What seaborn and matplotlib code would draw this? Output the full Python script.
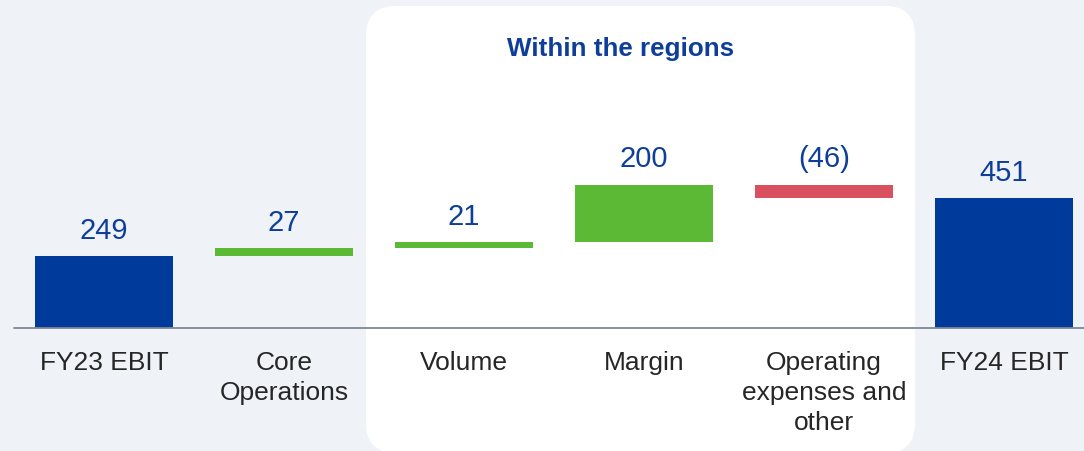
import numpy as np
import pandas as pd
import seaborn as sns
import matplotlib.pyplot as plt
from matplotlib.patches import FancyBboxPatch
from matplotlib.transforms import IdentityTransform

# EBIT bridge FY23 -> FY24
steps = ['FY23 EBIT', 'Core\nOperations', 'Volume', 'Margin',
         'Operating\nexpenses and\nother', 'FY24 EBIT']
changes = [249, 27, 21, 200, -46, 451]
kinds = ['total', 'up', 'up', 'up', 'down', 'total']
value_labels = ['249', '27', '21', '200', '(46)', '451']

colors = {'total': '#003A9B', 'up': '#5CB935', 'down': '#D9505E'}
bg = '#EFF3F7'

# floating bar geometry from the running total
bottoms, heights = [], []
running = 0
for val, kind in zip(changes, kinds):
    if kind == 'total':
        bottoms.append(0)
        heights.append(val)
        running = val
    else:
        bottoms.append(running if val >= 0 else running + val)
        heights.append(abs(val))
        running += val

df = pd.DataFrame({'step': steps, 'height': heights, 'kind': kinds})

sns.set_theme(style='white')
plt.rcParams['font.family'] = ['Liberation Sans', 'DejaVu Sans']

fig = plt.figure(figsize=(10.84, 4.52), dpi=100, facecolor=bg)
# axes bottom sits on the baseline, labels hang below it
ax = fig.add_axes([0, 123 / 452, 1, 329 / 452])
ax.set_facecolor('none')

# white rounded panel behind the regional steps
panel = FancyBboxPatch((366, -2), 549, 447, boxstyle='round,pad=0,rounding_size=30',
                       transform=IdentityTransform(), facecolor='white',
                       edgecolor='none', zorder=-1)
fig.add_artist(panel)

sns.barplot(data=df, x='step', y='height', hue='kind', palette=colors,
            order=steps, dodge=False, width=0.767, linewidth=0,
            saturation=1, legend=False, ax=ax)

for p in ax.patches:
    i = int(round(p.get_x() + p.get_width() / 2))
    p.set_y(bottoms[i])

for i, lab in enumerate(value_labels):
    ax.annotate(lab, (i, bottoms[i] + heights[i]), xytext=(0, 19),
                textcoords='offset points', ha='center', va='center',
                fontsize=21, color='#0F3E99')

ax.axhline(0, xmin=14 / 1084, xmax=1, color='#7F8894', lw=1.3, zorder=3,
           clip_on=False)

ax.set_xlim(-0.578, 5.444)
ax.set_ylim(0, 1141)
ax.set_xlabel('')
ax.set_ylabel('')
ax.set_yticks([])
ax.tick_params(axis='x', length=0, pad=16, labelsize=19, labelcolor='#262626')
for t in ax.get_xticklabels():
    t.set_linespacing(1.3)
for s in ax.spines.values():
    s.set_visible(False)

fig.text(621 / 1084, 1 - 56 / 452, 'Within the regions', ha='center',
         va='baseline', fontsize=18.7, fontweight='bold', color='#0F3E99')

fig.savefig('out.png', dpi=100, facecolor=bg)
